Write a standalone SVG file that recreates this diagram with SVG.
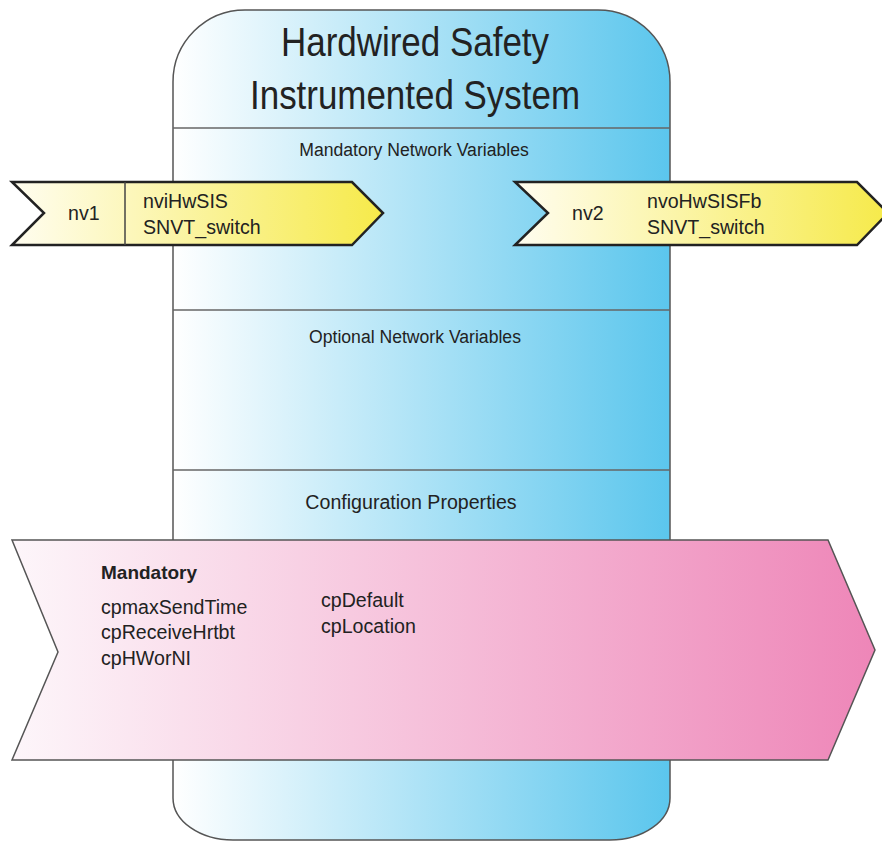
<svg xmlns="http://www.w3.org/2000/svg" width="882" height="844" viewBox="0 0 882 844">
<defs>
<linearGradient id="gBlue" x1="0" y1="0" x2="1" y2="0">
<stop offset="0" stop-color="#ffffff"/>
<stop offset="1" stop-color="#5bc6ed"/>
</linearGradient>
<linearGradient id="gYellow" x1="0" y1="0" x2="1" y2="0">
<stop offset="0" stop-color="#fffdf0"/>
<stop offset="1" stop-color="#f6ea4a"/>
</linearGradient>
<linearGradient id="gPink" x1="0" y1="0" x2="1" y2="0">
<stop offset="0" stop-color="#fdf6fa"/>
<stop offset="1" stop-color="#ee86b8"/>
</linearGradient>
<style>
text{font-family:"Liberation Sans",Arial,sans-serif;fill:#222}
.title{font-size:40px;text-anchor:middle}
.sec{font-size:17.6px;text-anchor:middle}
.nv{font-size:19.6px}
.cp{font-size:19.6px}
.bold{font-weight:bold;font-size:19px}
.line{stroke:#666;stroke-width:1.5;fill:none}
.yarrow{fill:url(#gYellow);stroke:#222;stroke-width:2.5}
.parrow{fill:url(#gPink);stroke:#555;stroke-width:1.5}
</style>
</defs>
<g id="system">
<path d="M173,82 A72,72 0 0 1 245,10 L598,10 A72,72 0 0 1 670,82 L670,798 A60,42 0 0 1 610,840 L233,840 A60,42 0 0 1 173,798 Z" fill="url(#gBlue)" stroke="#555" stroke-width="1.5"/>
<text class="title" x="415" y="56" textLength="268" lengthAdjust="spacingAndGlyphs">Hardwired Safety</text>
<text class="title" x="415" y="109" textLength="330" lengthAdjust="spacingAndGlyphs">Instrumented System</text>
<line class="line" x1="173" y1="128" x2="670" y2="128"/>
<text class="sec" x="414" y="156">Mandatory Network Variables</text>
<line class="line" x1="173" y1="310" x2="670" y2="310"/>
<text class="sec" x="415" y="343">Optional Network Variables</text>
<line class="line" x1="173" y1="470" x2="670" y2="470"/>
<text class="sec" x="411" y="509" style="font-size:19.6px">Configuration Properties</text>
</g>
<g id="nv1">
<polygon class="yarrow" points="12,182 352,182 383,213 352,245 12,245 44,213"/>
<line x1="125" y1="182" x2="125" y2="245" stroke="#444" stroke-width="1.5"/>
<text class="nv" x="68" y="220">nv1</text>
<text class="nv" x="143" y="208">nviHwSIS</text>
<text class="nv" x="143" y="234">SNVT_switch</text>
</g>
<g id="nv2">
<polygon class="yarrow" points="515,182 857,182 888,213 857,245 515,245 548,213"/>
<text class="nv" x="572" y="220">nv2</text>
<text class="nv" x="647" y="208">nvoHwSISFb</text>
<text class="nv" x="647" y="234">SNVT_switch</text>
</g>
<g id="config">
<polygon class="parrow" points="12,540 828,540 875,650 828,760 12,760 58,652"/>
<text class="bold" x="101" y="579">Mandatory</text>
<text class="cp" x="101" y="614">cpmaxSendTime</text>
<text class="cp" x="101" y="639">cpReceiveHrtbt</text>
<text class="cp" x="101" y="665">cpHWorNI</text>
<text class="cp" x="321" y="607">cpDefault</text>
<text class="cp" x="321" y="633">cpLocation</text>
</g>
<g id="connectors"/>
</svg>
